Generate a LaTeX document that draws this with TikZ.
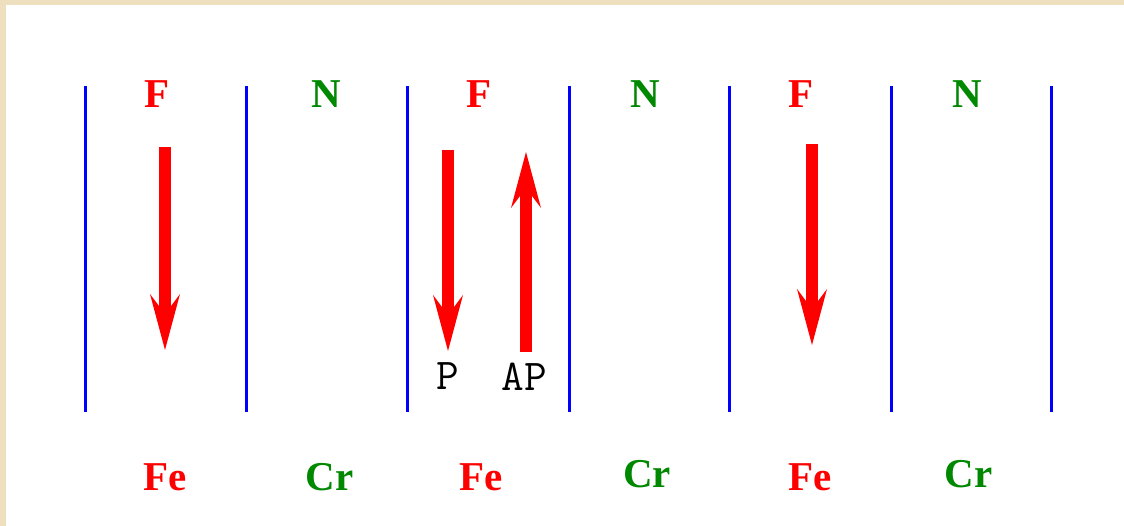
\documentclass[tikz,border=0pt]{standalone}
\usepackage{fontspec}
\setmainfont{Liberation Serif}
\usetikzlibrary{arrows.meta}
\definecolor{beige}{RGB}{238,224,190}
\definecolor{myred}{RGB}{255,0,0}
\definecolor{mygreen}{RGB}{0,136,0}
\definecolor{myblue}{RGB}{0,0,255}
\tikzset{
  sep/.style={draw=myblue,line width=3pt},
  phase/.style={inner sep=0pt,font=\fontsize{41}{43}\selectfont\bfseries},
  fe/.style={phase,text=myred},
  cr/.style={phase,text=mygreen},
  lbl/.style={inner sep=0pt,font=\fontsize{44}{46}\selectfont\ttfamily},
  spin/.style={draw=myred,line width=12pt,
    -{Stealth[length=56pt,width=30pt,inset=20pt,line width=0pt,fill=myred]}},
}
\begin{document}
\begin{tikzpicture}[x=1pt,y=-1pt]
\fill[beige] (0,0) rectangle (1124,526);
\fill[white] (6,5) rectangle (1124,526);
\useasboundingbox (0,0) rectangle (1124,526);
% separators
\foreach \x/\n in {85/1,246/2,407/3,569/4,729/5,891/6,1051/7}{
  \coordinate (t\n) at (\x,86);
  \coordinate (b\n) at (\x,412);
  \draw[sep] (t\n) -- (b\n);
}
% top labels
\node[fe] (f1) at (157.5,94) {F};
\node[cr] (n1) at (326,94) {N};
\node[fe] (f2) at (479.5,94) {F};
\node[cr] (n2) at (645.5,94) {N};
\node[fe] (f3) at (801.5,94) {F};
\node[cr] (n3) at (967.5,94) {N};
% bottom labels
\node[fe] (fe1) at (165,477) {Fe};
\node[cr] (cr1) at (329.5,477) {Cr};
\node[fe] (fe2) at (481,477) {Fe};
\node[cr] (cr2) at (647,474.5) {Cr};
\node[fe] (fe3) at (810.5,477) {Fe};
\node[cr] (cr3) at (968.5,474.5) {Cr};
% spins
\coordinate (s1a) at (165,147); \coordinate (s1b) at (165,350);
\coordinate (s2a) at (448,150); \coordinate (s2b) at (448,351);
\coordinate (s3a) at (526,352); \coordinate (s3b) at (526,152);
\coordinate (s4a) at (812,144); \coordinate (s4b) at (812,345);
\draw[spin] (s1a) -- (s1b);
\draw[spin] (s2a) -- (s2b);
\draw[spin] (s3a) -- (s3b);
\draw[spin] (s4a) -- (s4b);
\node[lbl] (p) at (447.5,376.5) {P};
\node[lbl] (ap) at (524.5,376.5) {AP};
\end{tikzpicture}
\end{document}
